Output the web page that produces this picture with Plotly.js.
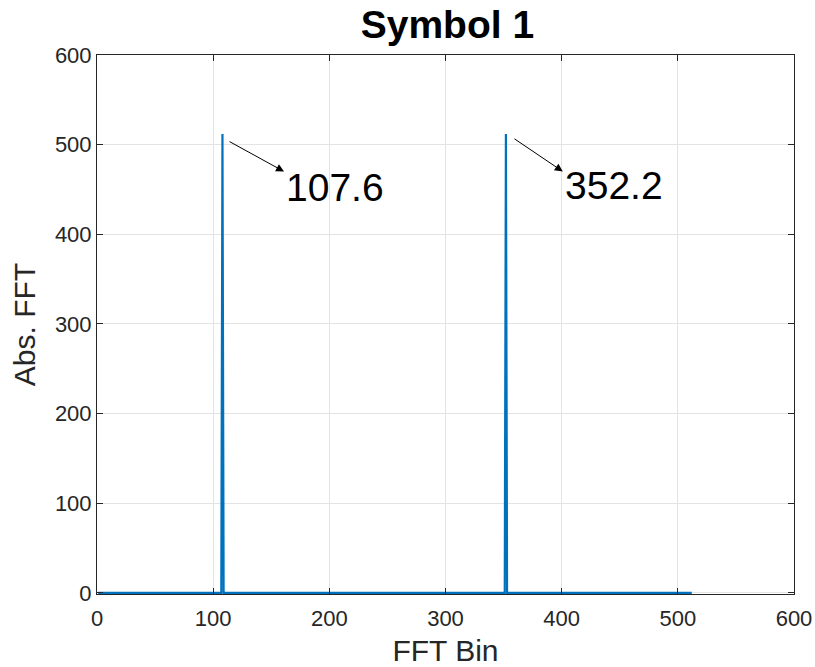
<!DOCTYPE html>
<html>
<head>
<meta charset="utf-8">
<script src="https://cdn.plot.ly/plotly-3.0.1.min.js"></script>
<style>html,body{margin:0;padding:0;background:#fff;}#chart{width:815px;height:667px;}</style>
</head>
<body>
<div id="chart"></div>
<script>
// FFT bins (sparse: zero everywhere except the two peaks)
const bins = [1, 107, 108, 109, 351, 352, 353, 512];
const absFFT = [0, 0, 512, 0, 0, 512, 0, 0];
const peakLabels = ["107.6", "352.2"];
const xTicks = [0, 100, 200, 300, 400, 500, 600];
const yTicks = [0, 100, 200, 300, 400, 500, 600];

const font = "Liberation Sans, Arial, Helvetica, sans-serif";
const axisColor = "#262626";

const trace = {
  x: bins, y: absFFT, type: "scatter", mode: "lines",
  line: {color: "#0072BD", width: 2.2},
  hoverinfo: "skip"
};

const axisCommon = {
  showgrid: true, gridcolor: "#e3e3e3", gridwidth: 1,
  zeroline: false, showline: true, linecolor: axisColor, linewidth: 1,
  mirror: "ticks", ticks: "inside", ticklen: 6, tickwidth: 1, tickcolor: axisColor,
  tickfont: {family: font, size: 22, color: axisColor}
};

const layout = {
  width: 815, height: 667,
  margin: {l: 97, r: 21, t: 55, b: 73},
  paper_bgcolor: "#fff", plot_bgcolor: "#fff",
  showlegend: false,
  title: {text: "<b>Symbol 1</b>", font: {family: font, size: 39, color: "#000"},
          x: 0.549, xanchor: "center", y: 0.963, yanchor: "middle"},
  xaxis: Object.assign({}, axisCommon, {
    range: [0, 600],
    tickvals: xTicks, ticktext: xTicks.map(String), ticklabelstandoff: 5,
    title: {text: "FFT Bin", font: {family: font, size: 30, color: axisColor}, standoff: 12}
  }),
  yaxis: Object.assign({}, axisCommon, {
    range: [-1.3, 600],
    tickvals: yTicks, ticktext: yTicks.map(String),
    title: {text: "Abs. FFT", font: {family: font, size: 30, color: axisColor}, standoff: 10}
  }),
  annotations: [
    {x: 161, y: 470, ax: 112.8, ay: 504.3, axref: "x", ayref: "y", xref: "x", yref: "y",
     text: "", showarrow: true, arrowhead: 2, arrowsize: 1.6, arrowwidth: 1, arrowcolor: "#000"},
    {x: 401, y: 470, ax: 358.1, ay: 507.6, axref: "x", ayref: "y", xref: "x", yref: "y",
     text: "", showarrow: true, arrowhead: 2, arrowsize: 1.6, arrowwidth: 1, arrowcolor: "#000"},
    {x: 161, y: 452, xref: "x", yref: "y", xanchor: "left", yanchor: "middle",
     text: peakLabels[0], showarrow: false, font: {family: font, size: 39, color: "#000"}},
    {x: 401.5, y: 454, xref: "x", yref: "y", xanchor: "left", yanchor: "middle",
     text: peakLabels[1], showarrow: false, font: {family: font, size: 39, color: "#000"}}
  ]
};

Plotly.newPlot("chart", [trace], layout, {staticPlot: true, displayModeBar: false});
</script>
</body>
</html>
